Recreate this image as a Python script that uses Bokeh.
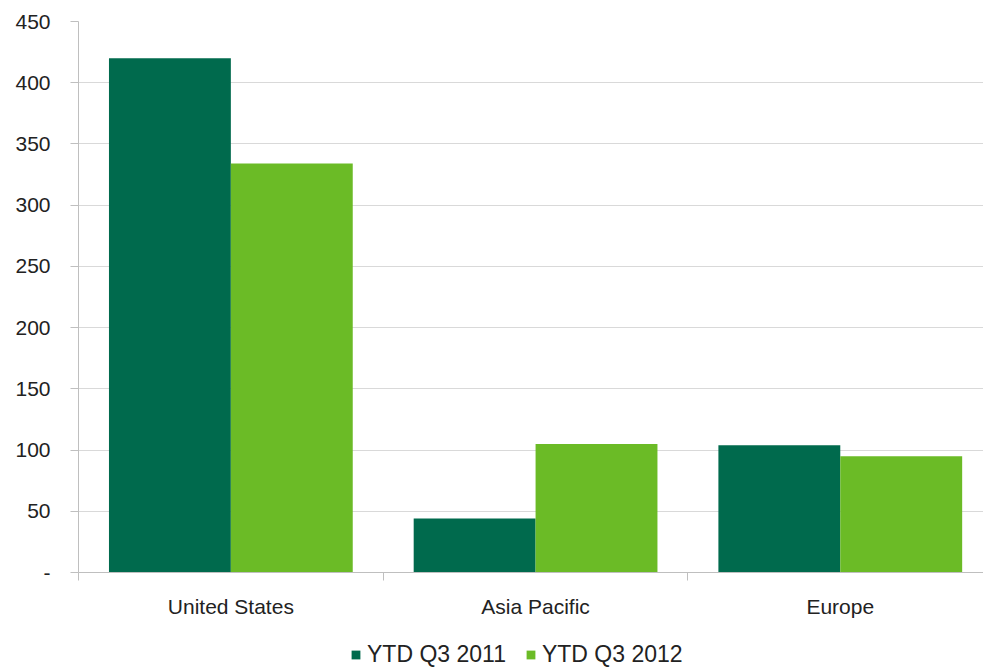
from bokeh.plotting import figure
from bokeh.layouts import column
from bokeh.models import Range1d, FixedTicker, Legend, LegendItem, ColumnDataSource
from bokeh.embed import file_html
from bokeh.resources import INLINE

categories = ["United States", "Asia Pacific", "Europe"]
series_names = ["YTD Q3 2011", "YTD Q3 2012"]
values_2011 = [420, 44, 104]
values_2012 = [334, 105, 95]
y_ticks = [0, 50, 100, 150, 200, 250, 300, 350, 400, 450]

colors = ["#006A4D", "#6BBB26"]
FONT = "Liberation Sans"

chart = figure(width=983, height=632, output_backend="svg", toolbar_location=None,
               x_range=Range1d(0, 2.97), y_range=Range1d(0, 450),
               min_border_left=78, min_border_right=0, min_border_top=21, min_border_bottom=60)
chart.outline_line_color = None
chart.background_fill_color = "white"
chart.border_fill_color = "white"

centers = [i + 0.5 for i in range(len(categories))]
src1 = ColumnDataSource(dict(x=[c - 0.2 for c in centers], top=values_2011))
src2 = ColumnDataSource(dict(x=[c + 0.2 for c in centers], top=values_2012))
chart.vbar(x="x", top="top", width=0.4, bottom=0, source=src1, fill_color=colors[0], line_color=None)
chart.vbar(x="x", top="top", width=0.4, bottom=0, source=src2, fill_color=colors[1], line_color=None)

# x axis
chart.xaxis.ticker = FixedTicker(ticks=centers, minor_ticks=[0, 1, 2, 3])
chart.xaxis.major_label_overrides = {c: cat for c, cat in zip(centers, categories)}
chart.xaxis.major_tick_line_color = None
chart.xaxis.minor_tick_line_color = "#bfbfbf"
chart.xaxis.minor_tick_out = 8
chart.xaxis.minor_tick_in = 0
chart.xaxis.axis_line_color = "#bfbfbf"
chart.xaxis.major_label_text_font = FONT
chart.xaxis.major_label_text_font_size = "21px"
chart.xaxis.major_label_text_color = "#222222"
chart.xaxis.major_label_standoff = 14

# y axis
chart.yaxis.ticker = FixedTicker(ticks=y_ticks)
chart.yaxis.major_label_overrides = {0: "-"}
chart.yaxis.axis_line_color = "#bfbfbf"
chart.yaxis.major_tick_line_color = "#bfbfbf"
chart.yaxis.major_tick_out = 8
chart.yaxis.major_tick_in = 0
chart.yaxis.minor_tick_line_color = None
chart.yaxis.major_label_text_font = FONT
chart.yaxis.major_label_text_font_size = "21px"
chart.yaxis.major_label_text_color = "#222222"
chart.yaxis.major_label_standoff = 20

chart.xgrid.grid_line_color = None
chart.ygrid.grid_line_color = "#d9d9d9"
chart.ygrid.ticker = FixedTicker(ticks=y_ticks)

# legend strip below the chart (swatch renderers sit outside the visible range)
leg_fig = figure(width=983, height=36, output_backend="svg", toolbar_location=None,
                 x_axis_type=None, y_axis_type=None, x_range=Range1d(0, 1), y_range=Range1d(0, 1),
                 min_border=0)
leg_fig.outline_line_color = None
leg_fig.xgrid.visible = False
leg_fig.ygrid.visible = False
swatch = ColumnDataSource(dict(x=[5], top=[5]))
l1 = leg_fig.vbar(x="x", top="top", width=0.1, source=swatch, fill_color=colors[0], line_color=None)
l2 = leg_fig.vbar(x="x", top="top", width=0.1, source=swatch, fill_color=colors[1], line_color=None)
legend = Legend(items=[LegendItem(label=series_names[0], renderers=[l1]),
                       LegendItem(label=series_names[1], renderers=[l2])],
                orientation="horizontal", location=(272, 0),
                label_text_font=FONT, label_text_font_size="23px", label_text_color="#222222",
                label_height=22, glyph_width=11, glyph_height=11, spacing=19, label_standoff=6,
                border_line_color=None, background_fill_alpha=0, margin=0, padding=3)
leg_fig.add_layout(legend, "center")

p = column(chart, leg_fig, spacing=0)

open("out.html", "w").write(file_html(p, INLINE))
